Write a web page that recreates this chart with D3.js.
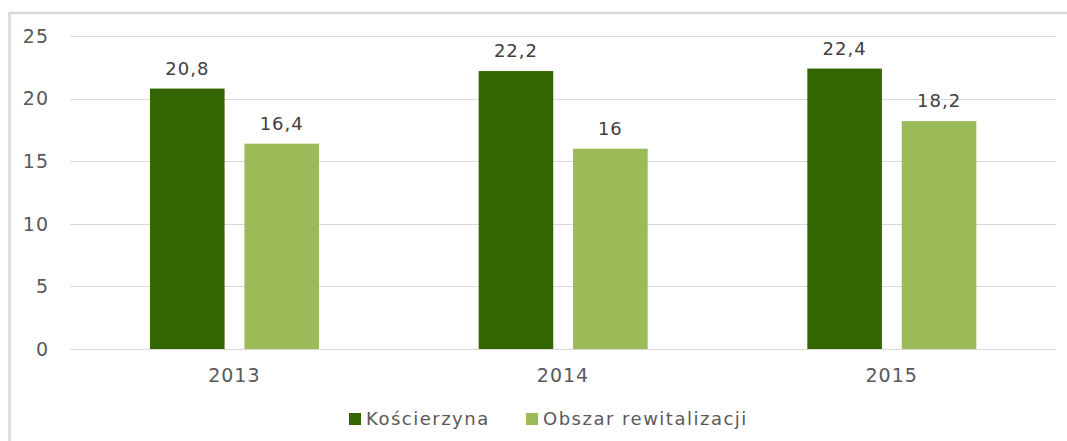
<!DOCTYPE html>
<head>
<meta charset="utf-8">
<script src="https://d3js.org/d3.v7.min.js"></script>
</head>
<style>
body { margin: 0; background: #fff; }
text { font-family: "DejaVu Sans", Verdana, sans-serif; }
</style>
<body>
<script>
var years = ["2013", "2014", "2015"];
var seriesNames = ["Kościerzyna", "Obszar rewitalizacji"];
var koscierzyna = [20.8, 22.2, 22.4];
var obszar = [16.4, 16, 18.2];
var yTicks = [0, 5, 10, 15, 20, 25];
var colors = ["#336600", "#9bbb59"];

var width = 1067, height = 441;
var plot = {left: 70, right: 1056, top: 36, bottom: 349};

var svg = d3.select("body").append("svg")
    .attr("width", width)
    .attr("height", height);

// outer frame
svg.append("rect")
    .attr("x", 9.5).attr("y", 13)
    .attr("width", 1070).attr("height", 440)
    .attr("fill", "none")
    .attr("stroke", "#d9d9d9")
    .attr("stroke-width", 2.5);

var x = d3.scaleBand().domain(years).range([plot.left, plot.right]);
var xs = d3.scaleBand().domain(seriesNames).range([80, 249]).paddingInner(0.21);
var y = d3.scaleLinear().domain([0, 25]).range([plot.bottom, plot.top]);

// gridlines
svg.append("g").selectAll("line")
    .data(yTicks)
  .enter().append("line")
    .attr("x1", plot.left).attr("x2", plot.right)
    .attr("y1", function(d) { return Math.round(y(d)) + 0.5; })
    .attr("y2", function(d) { return Math.round(y(d)) + 0.5; })
    .attr("stroke", "#d9d9d9")
    .attr("stroke-width", 1);

// y labels
svg.append("g").selectAll("text")
    .data(yTicks)
  .enter().append("text")
    .attr("x", 49)
    .attr("y", function(d) { return y(d); })
    .attr("dy", "0.36em")
    .attr("text-anchor", "end")
    .attr("font-size", "19px")
    .attr("letter-spacing", "1px")
    .attr("fill", "#595959")
    .text(function(d) { return d; });

var data = [];
years.forEach(function(yr, i) {
  data.push({year: yr, s: seriesNames[0], v: koscierzyna[i], c: colors[0]});
  data.push({year: yr, s: seriesNames[1], v: obszar[i], c: colors[1]});
});

svg.append("g").selectAll("rect")
    .data(data)
  .enter().append("rect")
    .attr("x", function(d) { return x(d.year) + xs(d.s); })
    .attr("y", function(d) { return y(d.v); })
    .attr("width", xs.bandwidth())
    .attr("height", function(d) { return y(0) - y(d.v); })
    .attr("fill", function(d) { return d.c; });

// value labels
svg.append("g").selectAll("text")
    .data(data)
  .enter().append("text")
    .attr("x", function(d) { return x(d.year) + xs(d.s) + xs.bandwidth() / 2; })
    .attr("y", function(d) { return y(d.v) - 14; })
    .attr("text-anchor", "middle")
    .attr("font-size", "18px")
    .attr("letter-spacing", "1px")
    .attr("fill", "#404040")
    .text(function(d) { return String(d.v).replace(".", ","); });

// x labels
svg.append("g").selectAll("text")
    .data(years)
  .enter().append("text")
    .attr("x", function(d) { return x(d) + x.bandwidth() / 2; })
    .attr("y", 382)
    .attr("text-anchor", "middle")
    .attr("font-size", "19px")
    .attr("letter-spacing", "1px")
    .attr("fill", "#595959")
    .text(function(d) { return d; });

// legend
var legendX = [349, 526];
var lg = svg.append("g").selectAll("g")
    .data(seriesNames)
  .enter().append("g")
    .attr("transform", function(d, i) { return "translate(" + legendX[i] + ",413)"; });
lg.append("rect")
    .attr("width", 12).attr("height", 12)
    .attr("fill", function(d, i) { return colors[i]; });
lg.append("text")
    .attr("x", 17)
    .attr("y", 6)
    .attr("dy", "0.36em")
    .attr("font-size", "18px")
    .attr("letter-spacing", "1.5px")
    .attr("fill", "#595959")
    .text(function(d) { return d; });
</script>
</body>
